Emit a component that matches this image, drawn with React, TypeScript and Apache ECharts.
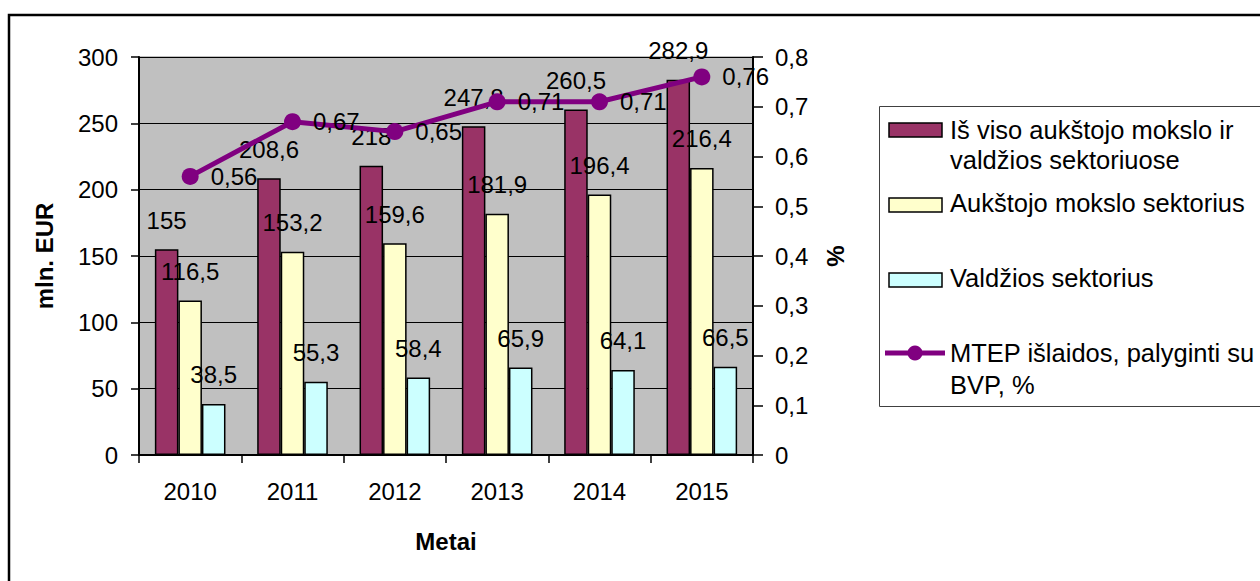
import React, { useEffect, useRef } from "react";
import * as echarts from "echarts";

const years = ["2010", "2011", "2012", "2013", "2014", "2015"];
const totalValues = [155, 208.6, 218, 247.8, 260.5, 282.9];
const higherEduValues = [116.5, 153.2, 159.6, 181.9, 196.4, 216.4];
const governmentValues = [38.5, 55.3, 58.4, 65.9, 64.1, 66.5];
const gdpShareValues = [0.56, 0.67, 0.65, 0.71, 0.71, 0.76];

const seriesNames = [
  "Iš viso aukštojo mokslo ir valdžios sektoriuose",
  "Aukštojo mokslo sektorius",
  "Valdžios sektorius",
  "MTEP išlaidos, palyginti su BVP, %",
];
const legendTexts = [
  "Iš viso aukštojo mokslo ir\nvaldžios sektoriuose",
  "Aukštojo mokslo sektorius",
  "Valdžios sektorius",
  "MTEP išlaidos, palyginti su\nBVP, %",
];
const colors = ["#993366", "#FFFFCC", "#CCFFFF", "#800080"];

const FONT = "'Liberation Sans', Arial, sans-serif";
const fmt = (v: number) => String(v).replace(".", ",");

export default function App() {
  const ref = useRef<HTMLDivElement>(null);
  useEffect(() => {
    if (!ref.current) return;
    const chart = echarts.init(ref.current, null, { renderer: "svg" });
    const labelStyle = {
      show: true,
      position: "top" as const,
      distance: 17,
      fontFamily: FONT,
      fontSize: 24,
      color: "#000",
      formatter: (p: any) => fmt(p.value),
    };
    const barSeries = (i: number, data: number[]) => ({
      name: seriesNames[i],
      type: "bar",
      data,
      barCategoryGap: "31%",
      barGap: "0%",
      itemStyle: { color: colors[i], borderColor: "#000", borderWidth: 1.5 },
      label: labelStyle,
    });
    const legendFont = { fontFamily: FONT, fontSize: 25.5, fill: "#000" };
    chart.setOption({
      animation: false,
      textStyle: { fontFamily: FONT },
      grid: {
        left: 139,
        right: 507,
        top: 57,
        bottom: 126,
        show: true,
        backgroundColor: "#C0C0C0",
        borderColor: "#808080",
        borderWidth: 1,
      },
      xAxis: {
        type: "category",
        data: years,
        name: "Metai",
        nameLocation: "middle",
        nameGap: 74,
        nameTextStyle: { fontFamily: FONT, fontSize: 24, fontWeight: "bold", color: "#000" },
        axisLine: { show: true, lineStyle: { color: "#000", width: 2 } },
        axisTick: { show: true, length: 8, lineStyle: { color: "#000", width: 1.5 } },
        axisLabel: { fontFamily: FONT, fontSize: 24, color: "#000", margin: 24 },
      },
      yAxis: [
        {
          type: "value",
          min: 0,
          max: 300,
          interval: 50,
          name: "mln. EUR",
          nameLocation: "middle",
          nameGap: 83,
          nameRotate: 90,
          nameTextStyle: { fontFamily: FONT, fontSize: 24, fontWeight: "bold", color: "#000" },
          axisLine: { show: true, lineStyle: { color: "#000", width: 2 } },
          axisTick: { show: true, length: 8, lineStyle: { color: "#000", width: 1.5 } },
          axisLabel: { fontFamily: FONT, fontSize: 24, color: "#000", margin: 21 },
          splitLine: { show: true, lineStyle: { color: "#000", width: 1 } },
        },
        {
          type: "value",
          min: 0,
          max: 0.8,
          interval: 0.1,
          position: "right",
          name: "%",
          nameLocation: "middle",
          nameGap: 70,
          nameRotate: 90,
          nameTextStyle: { fontFamily: FONT, fontSize: 24, fontWeight: "bold", color: "#000" },
          axisLine: { show: true, lineStyle: { color: "#000", width: 2 } },
          axisTick: { show: true, length: 10, lineStyle: { color: "#000", width: 1.5 } },
          axisLabel: {
            fontFamily: FONT,
            fontSize: 24,
            color: "#000",
            margin: 22,
            formatter: (v: number) => fmt(Number(v.toFixed(1))),
          },
          splitLine: { show: false },
        },
      ],
      series: [
        barSeries(0, totalValues),
        barSeries(1, higherEduValues),
        barSeries(2, governmentValues),
        {
          name: seriesNames[3],
          type: "line",
          yAxisIndex: 1,
          data: gdpShareValues,
          symbol: "circle",
          symbolSize: 17,
          z: 5,
          lineStyle: { color: colors[3], width: 5 },
          itemStyle: { color: colors[3] },
          label: {
            show: true,
            position: "right",
            distance: 12,
            fontFamily: FONT,
            fontSize: 24,
            color: "#000",
            formatter: (p: any) => fmt(p.value),
          },
        },
      ],
      graphic: [
        {
          type: "rect",
          shape: { x: 9, y: 15, width: 1300, height: 620 },
          style: { fill: "none", stroke: "#000", lineWidth: 2.5 },
          silent: true,
        },
        {
          type: "rect",
          shape: { x: 879.5, y: 106.5, width: 420, height: 300 },
          style: { fill: "#fff", stroke: "#404040", lineWidth: 1 },
          silent: true,
        },
        {
          type: "rect",
          shape: { x: 889, y: 123, width: 53, height: 14 },
          style: { fill: colors[0], stroke: "#000", lineWidth: 1.5 },
        },
        {
          type: "text",
          x: 950,
          y: 115,
          style: { ...legendFont, text: legendTexts[0], lineHeight: 30, verticalAlign: "top" },
        },
        {
          type: "rect",
          shape: { x: 889, y: 198, width: 53, height: 14 },
          style: { fill: colors[1], stroke: "#000", lineWidth: 1.5 },
        },
        {
          type: "text",
          x: 950,
          y: 188,
          style: { ...legendFont, text: legendTexts[1], lineHeight: 30, verticalAlign: "top" },
        },
        {
          type: "rect",
          shape: { x: 889, y: 273, width: 53, height: 14 },
          style: { fill: colors[2], stroke: "#000", lineWidth: 1.5 },
        },
        {
          type: "text",
          x: 950,
          y: 263,
          style: { ...legendFont, text: legendTexts[2], lineHeight: 30, verticalAlign: "top" },
        },
        {
          type: "line",
          shape: { x1: 885, y1: 353, x2: 945, y2: 353 },
          style: { stroke: colors[3], lineWidth: 5 },
        },
        {
          type: "circle",
          shape: { cx: 915, cy: 353, r: 7.5 },
          style: { fill: colors[3] },
        },
        {
          type: "text",
          x: 950,
          y: 337,
          style: { ...legendFont, text: legendTexts[3], lineHeight: 32, verticalAlign: "top" },
        },
      ],
    });
    return () => chart.dispose();
  }, []);
  return (
    <div
      ref={ref}
      style={{ position: "fixed", left: 0, top: 0, width: 1260, height: 581, background: "#fff" }}
    />
  );
}
